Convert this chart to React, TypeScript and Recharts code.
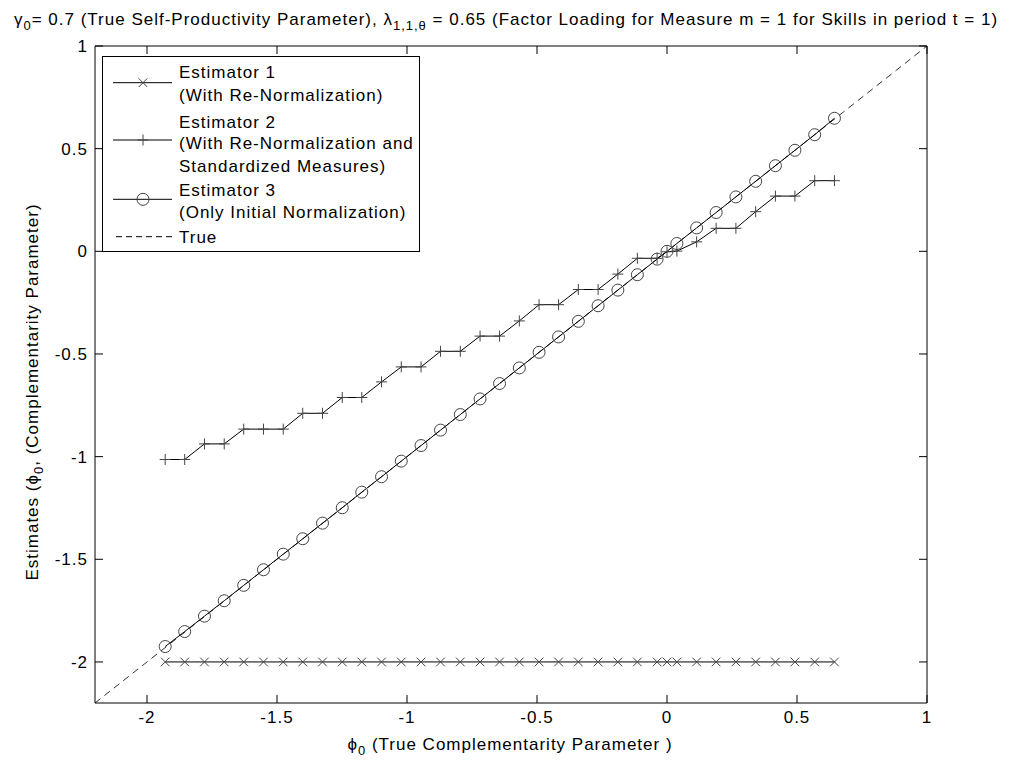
import React from 'react';
import { ComposedChart, Line, XAxis, YAxis, Legend, Customized } from 'recharts';

// ---- data ----
const phiTrue: number[] = [
  -1.930, -1.855, -1.779, -1.703, -1.628, -1.552, -1.476, -1.401, -1.325, -1.249,
  -1.174, -1.098, -1.022, -0.946, -0.871, -0.795, -0.719, -0.644, -0.568, -0.492,
  -0.417, -0.341, -0.265, -0.189, -0.114, -0.038, 0.000, 0.038, 0.114, 0.189,
  0.265, 0.341, 0.417, 0.492, 0.568, 0.644,
];
const estimator1: number[] = [
  -2, -2, -2, -2, -2, -2, -2, -2, -2, -2,
  -2, -2, -2, -2, -2, -2, -2, -2, -2, -2,
  -2, -2, -2, -2, -2, -2, -2, -2, -2, -2,
  -2, -2, -2, -2, -2, -2,
];
const estimator2: number[] = [
  -1.014, -1.014, -0.938, -0.938, -0.866, -0.866, -0.866, -0.789, -0.789, -0.712,
  -0.712, -0.636, -0.563, -0.563, -0.487, -0.487, -0.413, -0.413, -0.339, -0.260,
  -0.260, -0.186, -0.186, -0.111, -0.034, -0.034, -0.002, 0.001, 0.046, 0.112,
  0.112, 0.193, 0.269, 0.269, 0.344, 0.344,
];
const estimator3: number[] = [
  -1.925, -1.852, -1.777, -1.702, -1.627, -1.551, -1.475, -1.400, -1.324, -1.249,
  -1.173, -1.098, -1.022, -0.946, -0.871, -0.795, -0.719, -0.644, -0.568, -0.492,
  -0.417, -0.341, -0.265, -0.189, -0.114, -0.038, 0.000, 0.038, 0.114, 0.189,
  0.265, 0.341, 0.417, 0.492, 0.568, 0.648,
];
const trueLineX: number[] = [-2.2, 1];
const xTicks: number[] = [-2, -1.5, -1, -0.5, 0, 0.5, 1];
const yTicks: number[] = [-2, -1.5, -1, -0.5, 0, 0.5, 1];
const axisDomain: [number, number] = [-2.2, 1];

const est1Data = phiTrue.map((x, i) => ({ x, y: estimator1[i] }));
const est2Data = phiTrue.map((x, i) => ({ x, y: estimator2[i] }));
const est3Data = phiTrue.map((x, i) => ({ x, y: estimator3[i] }));
const trueData = trueLineX.map((x) => ({ x, y: x }));

const FONT = '"Liberation Sans", Arial, Helvetica, sans-serif';
const FS = 17;
const SUB = 13;
const LS = 1;
const MARK = '#444';
const TICK_LEN = 8;

const fmt = (v: number) => String(v);

// ---- markers ----
const XMark = (props: any) => {
  const { cx, cy } = props;
  if (cx == null || cy == null) return <g key={props.key} />;
  const s = 4.3;
  return (
    <g key={props.key}>
      <line x1={cx - s} y1={cy - s} x2={cx + s} y2={cy + s} stroke={MARK} strokeWidth={1} />
      <line x1={cx - s} y1={cy + s} x2={cx + s} y2={cy - s} stroke={MARK} strokeWidth={1} />
    </g>
  );
};
const PlusMark = (props: any) => {
  const { cx, cy } = props;
  if (cx == null || cy == null) return <g key={props.key} />;
  const s = 5.5;
  return (
    <g key={props.key}>
      <line x1={cx - s} y1={cy} x2={cx + s} y2={cy} stroke={MARK} strokeWidth={1} />
      <line x1={cx} y1={cy - s} x2={cx} y2={cy + s} stroke={MARK} strokeWidth={1} />
    </g>
  );
};
const CircleMark = (props: any) => {
  const { cx, cy } = props;
  if (cx == null || cy == null) return <g key={props.key} />;
  return <circle key={props.key} cx={cx} cy={cy} r={6} fill="none" stroke={MARK} strokeWidth={1} />;
};

// ---- ticks (drawn inward, MATLAB style) ----
const BottomTick = (props: any) => {
  const { x, y, payload } = props;
  return (
    <g>
      <line x1={x} y1={y} x2={x} y2={y - TICK_LEN} stroke="#000" strokeWidth={1} />
      <text x={x} y={y + 20} textAnchor="middle" fontFamily={FONT} fontSize={FS} letterSpacing={LS} fill="#000">
        {fmt(payload.value)}
      </text>
    </g>
  );
};
const TopTick = (props: any) => {
  const { x, y } = props;
  return <line x1={x} y1={y} x2={x} y2={y + TICK_LEN} stroke="#000" strokeWidth={1} />;
};
const LeftTick = (props: any) => {
  const { x, y, payload } = props;
  return (
    <g>
      <line x1={x} y1={y} x2={x + TICK_LEN} y2={y} stroke="#000" strokeWidth={1} />
      <text x={x - 7} y={y + 6} textAnchor="end" fontFamily={FONT} fontSize={FS} letterSpacing={LS} fill="#000">
        {fmt(payload.value)}
      </text>
    </g>
  );
};
const RightTick = (props: any) => {
  const { x, y } = props;
  return <line x1={x} y1={y} x2={x - TICK_LEN} y2={y} stroke="#000" strokeWidth={1} />;
};

// ---- titles ----
const Titles = () => (
  <g fontFamily={FONT} fill="#000" letterSpacing={LS}>
    <text x={506} y={25} textAnchor="middle" fontSize={FS}>
      γ<tspan dy={5} fontSize={SUB}>0</tspan>
      <tspan dy={-5}>= 0.7 (True Self-Productivity Parameter), λ</tspan>
      <tspan dy={5} fontSize={SUB}>1,1,θ</tspan>
      <tspan dy={-5}> = 0.65 (Factor Loading for Measure m = 1 for Skills in period t = 1)</tspan>
    </text>
    <text x={510} y={750} textAnchor="middle" fontSize={FS}>
      ϕ<tspan dy={5} fontSize={SUB}>0</tspan>
      <tspan dy={-5}> (True Complementarity Parameter )</tspan>
    </text>
    <text x={38} y={392} textAnchor="middle" fontSize={FS} transform="rotate(-90 38 392)">
      Estimates (ϕ<tspan dy={5} fontSize={SUB}>0</tspan>
      <tspan dy={-5}>, (Complementarity Parameter)</tspan>
    </text>
  </g>
);

// ---- legend ----
const legendRows = [
  { name: 'Estimator 1', sub: ['(With Re-Normalization)'], mark: 'x' },
  { name: 'Estimator 2', sub: ['(With Re-Normalization and', 'Standardized Measures)'], mark: '+' },
  { name: 'Estimator 3', sub: ['(Only Initial Normalization)'], mark: 'o' },
  { name: 'True', sub: [], mark: 'dash' },
];

const LegendBox = () => {
  const textBaselines = [21.7, 45, 71.7, 93.3, 116, 140, 161.7, 186.7];
  const lineYs = [26.7, 84, 143.3, 180.7];
  const lines: string[] = [];
  legendRows.forEach((r) => {
    lines.push(r.name);
    r.sub.forEach((s) => lines.push(s));
  });
  return (
    <svg width={320} height={198} style={{ display: 'block' }}>
      <rect x={0.5} y={0.5} width={317} height={195} fill="#fff" stroke="#000" strokeWidth={1} />
      {lineYs.map((ly, i) => {
        const m = legendRows[i].mark;
        if (m === 'dash') {
          return (
            <line key={i} x1={14} y1={ly} x2={70} y2={ly} stroke="#000" strokeWidth={1} strokeDasharray="6 4" />
          );
        }
        return (
          <g key={i}>
            <line x1={11} y1={ly} x2={70} y2={ly} stroke="#000" strokeWidth={1} />
            {m === 'x' && <XMark cx={41} cy={ly} />}
            {m === '+' && <PlusMark cx={41} cy={ly} />}
            {m === 'o' && <CircleMark cx={41} cy={ly} />}
          </g>
        );
      })}
      {lines.map((t, i) => (
        <text key={i} x={77} y={textBaselines[i]} fontFamily={FONT} fontSize={FS} letterSpacing={LS} fill="#000">
          {t}
        </text>
      ))}
    </svg>
  );
};

export default function App() {
  return (
    <div style={{ position: 'absolute', left: 0, top: 0, width: 1013, height: 763, background: '#fff' }}>
      <ComposedChart
        width={1013}
        height={763}
        margin={{ top: 45, right: 85, bottom: 59, left: 94 }}
      >
        <XAxis
          xAxisId={0}
          type="number"
          dataKey="x"
          domain={axisDomain}
          allowDataOverflow
          ticks={xTicks}
          interval={0}
          height={1}
          tickSize={0}
          tickMargin={0}
          tick={<BottomTick />}
          tickLine={false}
          axisLine={{ stroke: '#000', strokeWidth: 1 }}
        />
        <XAxis
          xAxisId="top"
          orientation="top"
          type="number"
          dataKey="x"
          domain={axisDomain}
          allowDataOverflow
          ticks={xTicks}
          interval={0}
          height={1}
          tickSize={0}
          tickMargin={0}
          tick={<TopTick />}
          tickLine={false}
          axisLine={{ stroke: '#000', strokeWidth: 1 }}
        />
        <YAxis
          yAxisId={0}
          type="number"
          domain={axisDomain}
          allowDataOverflow
          ticks={yTicks}
          interval={0}
          width={1}
          tickSize={0}
          tickMargin={0}
          tick={<LeftTick />}
          tickLine={false}
          axisLine={{ stroke: '#000', strokeWidth: 1 }}
        />
        <YAxis
          yAxisId="right"
          orientation="right"
          type="number"
          domain={axisDomain}
          allowDataOverflow
          ticks={yTicks}
          interval={0}
          width={1}
          tickSize={0}
          tickMargin={0}
          tick={<RightTick />}
          tickLine={false}
          axisLine={{ stroke: '#000', strokeWidth: 1 }}
        />
        <Line
          data={trueData}
          dataKey="y"
          name="True"
          stroke="#333"
          strokeWidth={1}
          strokeDasharray="7 5"
          dot={false}
          activeDot={false}
          isAnimationActive={false}
        />
        <Line
          data={est1Data}
          dataKey="y"
          name="Estimator 1"
          stroke="#000"
          strokeWidth={1}
          dot={(p: any) => <XMark {...p} />}
          activeDot={false}
          isAnimationActive={false}
        />
        <Line
          data={est2Data}
          dataKey="y"
          name="Estimator 2"
          stroke="#000"
          strokeWidth={1}
          dot={(p: any) => <PlusMark {...p} />}
          activeDot={false}
          isAnimationActive={false}
        />
        <Line
          data={est3Data}
          dataKey="y"
          name="Estimator 3"
          stroke="#000"
          strokeWidth={1}
          dot={(p: any) => <CircleMark {...p} />}
          activeDot={false}
          isAnimationActive={false}
        />
        <Legend
          layout="horizontal"
          verticalAlign="middle"
          align="center"
          content={() => <LegendBox />}
          wrapperStyle={{ position: 'absolute', left: 102, top: 56, width: 320, height: 198 }}
        />
        <Customized component={Titles} />
      </ComposedChart>
    </div>
  );
}
